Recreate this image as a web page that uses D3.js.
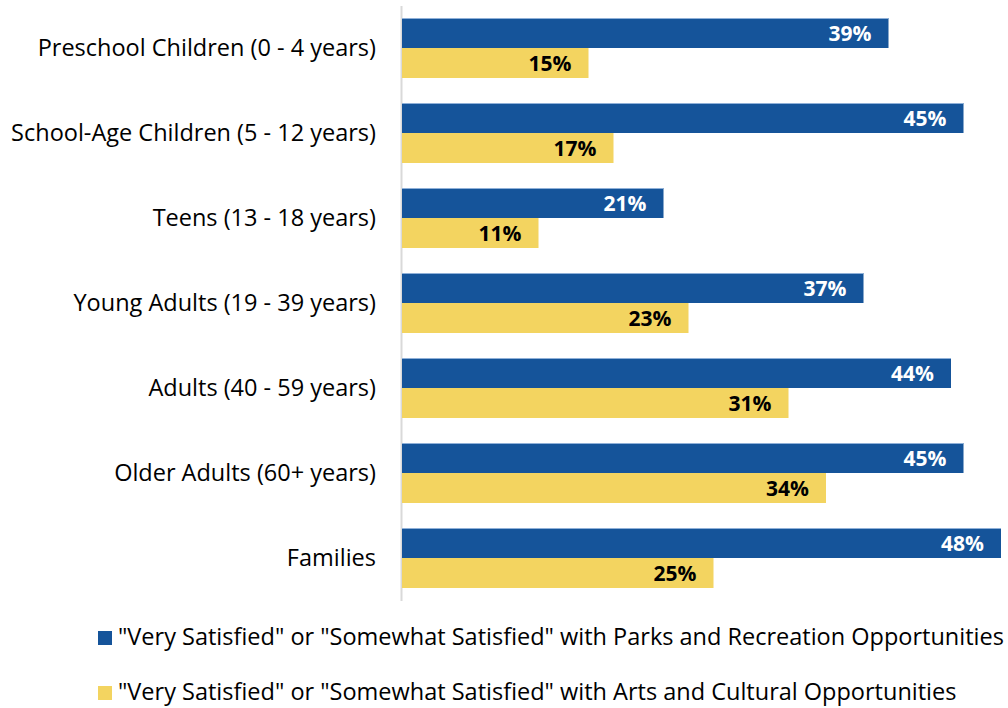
<!DOCTYPE html>
<html>
<head>
<meta charset="utf-8">
<script src="https://cdn.jsdelivr.net/npm/d3@7"></script>
<style>
  html, body { margin: 0; padding: 0; background: #fff; }
  svg { display: block; font-family: "Open Sans", sans-serif; }
</style>
</head>
<body>
<svg id="chart" width="1008" height="708"></svg>
<script>
// Population groups, top to bottom
const categories = [
  "Preschool Children (0 - 4 years)",
  "School-Age Children (5 - 12 years)",
  "Teens (13 - 18 years)",
  "Young Adults (19 - 39 years)",
  "Adults (40 - 59 years)",
  "Older Adults (60+ years)",
  "Families"
];
// Share satisfied with parks and recreation opportunities (%)
const parksValues = [39, 45, 21, 37, 44, 45, 48];
// Share satisfied with arts and cultural opportunities (%)
const artsValues = [15, 17, 11, 23, 31, 34, 25];

const seriesNames = [
  "\"Very Satisfied\" or \"Somewhat Satisfied\" with Parks and Recreation Opportunities",
  "\"Very Satisfied\" or \"Somewhat Satisfied\" with Arts and Cultural Opportunities"
];
const seriesKeys = ["parks", "arts"];
const colors = ["#15549a", "#f3d460"];
const labelColors = ["#ffffff", "#000000"];

const rows = categories.map((c, i) => ({ category: c, parks: parksValues[i], arts: artsValues[i] }));

const svg = d3.select("#chart");
const plotLeft = 401, plotRight = 1006;

const x = d3.scaleLinear().domain([0, 48.4]).range([plotLeft, plotRight]);
const y = d3.scaleBand().domain(categories).range([5.5, 600.5]).paddingInner(25 / 85).paddingOuter(12.5 / 85);
const ySub = d3.scaleBand().domain(seriesKeys).range([0, y.bandwidth()]);
const color = d3.scaleOrdinal().domain(seriesKeys).range(colors);

// Category axis on the left
const yAxis = svg.append("g")
  .attr("transform", `translate(${plotLeft},0)`)
  .call(d3.axisLeft(y).tickSize(0).tickPadding(25));
yAxis.select(".domain").attr("stroke", "#d9d9d9").attr("stroke-width", 2);
yAxis.selectAll("text")
  .attr("font-size", 23.5)
  .attr("fill", "#000")
  .style("font-family", "'Open Sans', sans-serif");

// Bars
const groups = svg.append("g").selectAll("g")
  .data(rows)
  .join("g")
  .attr("transform", d => `translate(0,${y(d.category)})`);

groups.selectAll("rect")
  .data(d => seriesKeys.map(k => ({ key: k, value: d[k] })))
  .join("rect")
  .attr("x", x(0) + 1)
  .attr("y", d => ySub(d.key))
  .attr("width", d => x(d.value) - x(0) - 1)
  .attr("height", ySub.bandwidth())
  .attr("fill", d => color(d.key));

// Thin light edge on the top of the blue bars
groups.append("line")
  .attr("x1", x(0) + 1)
  .attr("x2", d => x(d.parks))
  .attr("y1", 0.5).attr("y2", 0.5)
  .attr("stroke", "#8fb0d8").attr("stroke-width", 1);

// Value labels inside the bar ends
groups.selectAll("text.value")
  .data(d => seriesKeys.map((k, i) => ({ key: k, value: d[k], i })))
  .join("text")
  .attr("class", "value")
  .attr("x", d => x(d.value) - 17)
  .attr("y", d => ySub(d.key) + ySub.bandwidth() / 2)
  .attr("dy", "0.36em")
  .attr("text-anchor", "end")
  .attr("font-size", 21)
  .attr("font-weight", "bold")
  .attr("fill", d => labelColors[d.i])
  .text(d => d.value + "%");

// Legend
const legend = svg.append("g").selectAll("g")
  .data(seriesKeys)
  .join("g")
  .attr("transform", (d, i) => `translate(98,${631 + i * 55})`);
legend.append("rect")
  .attr("width", 14).attr("height", 14)
  .attr("fill", d => color(d));
legend.append("text")
  .attr("x", 20)
  .attr("y", 14)
  .attr("font-size", 23.5)
  .attr("fill", "#000")
  .text((d, i) => seriesNames[i]);
</script>
</body>
</html>
